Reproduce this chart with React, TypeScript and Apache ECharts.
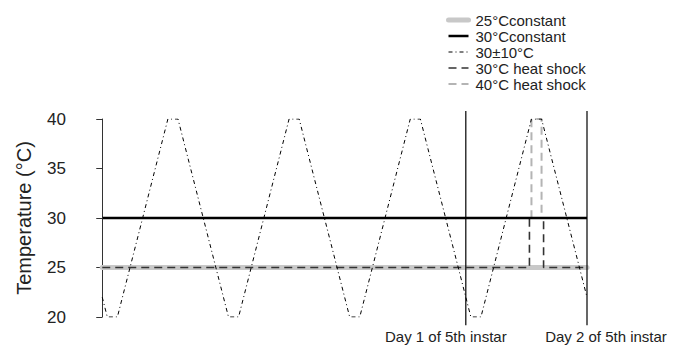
import React, { useEffect, useRef } from "react";
import * as echarts from "echarts";

// Time axis in hours (0 = start of record, 72 = day 1 of 5th instar, 96 = day 2)
const waveHours = [0, 1, 3, 13, 15, 25, 27, 37, 39, 49, 51, 61, 63, 73, 75, 85, 87, 96];
const waveTemps = [22, 20, 20, 40, 40, 20, 20, 40, 40, 20, 20, 40, 40, 20, 20, 40, 40, 22];

const constHours = [0, 96];
const const25 = [25, 25];
const const30 = [30, 30];

const hs30Hours = [0, 84.6, 84.6, 87.4, 87.4, 96];
const hs30Temps = [25, 25, 30, 30, 25, 25];

const hs40Hours = [0, 85, 85, 87, 87, 96];
const hs40Temps = [30, 30, 40, 40, 30, 30];

const dayHours = [72, 96];
const dayLabels = ["Day 1 of 5th instar", "Day 2 of 5th instar"];
const dayLineRange = [19.16, 40.81];

const yTicks = [20, 25, 30, 35, 40];

const seriesNames = [
  "25°Cconstant",
  "30°Cconstant",
  "30±10°C",
  "30°C heat shock",
  "40°C heat shock",
];

const zip = (xs: number[], ys: number[]) => xs.map((x, i) => [x, ys[i]]);

const FONT = "Liberation Sans, Arial, Helvetica, sans-serif";
const NOSYM = { color: "rgba(0,0,0,0)", borderWidth: 0, opacity: 0 };

const styles: any[] = [
  { color: "#c8c8c8", width: 5, cap: "round" },
  { color: "#000", width: 2.5 },
  { color: "#000", width: 1, type: [4, 3, 1, 3] },
  { color: "#333", width: 1.6, type: [8, 5] },
  { color: "#b4b4b4", width: 2, type: [8, 5] },
];

export default function App() {
  const ref = useRef<HTMLDivElement>(null);

  useEffect(() => {
    if (!ref.current) return;
    const chart = echarts.init(ref.current, undefined, { renderer: "svg" });

    const dayLineSeries = dayHours.map((h, i) => ({
      type: "line",
      name: "day" + i,
      data: [
        [h, dayLineRange[0]],
        [h, dayLineRange[1]],
      ],
      symbol: "none",
      clip: false,
      silent: true,
      lineStyle: { color: "#000", width: 1.2 },
      z: 5,
    }));

    const option: any = {
      animation: false,
      backgroundColor: "#fff",
      grid: { left: 77, right: 92, top: 119, bottom: 29, containLabel: false },
      legend: {
        data: seriesNames.map((n, i) => ({ name: n, lineStyle: styles[i] })),
        orient: "vertical",
        left: 446,
        top: 12,
        padding: 0,
        itemGap: 0,
        itemWidth: 20,
        itemHeight: 16,
        selectedMode: false,
        itemStyle: NOSYM,
        textStyle: {
          fontFamily: FONT,
          fontSize: 15,
          lineHeight: 16,
          color: "#222",
          padding: [0, 0, 0, 2],
        },
      },
      xAxis: {
        type: "value",
        min: -5,
        max: 96,
        axisLine: { show: false },
        axisTick: { show: false },
        splitLine: { show: false },
        axisLabel: {
          customValues: dayHours,
          margin: 12,
          formatter: (v: number) => {
            const i = dayHours.indexOf(v);
            if (i < 0) return "";
            return i === 0 ? "{a|" + dayLabels[i] + "}" : "{b|" + dayLabels[i] + "}";
          },
          rich: {
            a: { fontFamily: FONT, fontSize: 15, color: "#222", padding: [0, 40, 0, 0] },
            b: { fontFamily: FONT, fontSize: 15, color: "#222", padding: [0, 0, 0, 38] },
          },
        },
      },
      yAxis: {
        type: "value",
        min: yTicks[0],
        max: yTicks[yTicks.length - 1],
        interval: yTicks[1] - yTicks[0],
        name: "Temperature (°C)",
        nameLocation: "middle",
        nameGap: 43,
        nameTextStyle: { fontFamily: FONT, fontSize: 20, color: "#222" },
        axisLine: { show: true, lineStyle: { color: "#333", width: 1 } },
        axisTick: { show: true, length: 6, lineStyle: { color: "#333" } },
        splitLine: { show: false },
        axisLabel: { fontFamily: FONT, fontSize: 17, color: "#222", margin: 11 },
      },
      series: [
        {
          type: "line",
          name: seriesNames[0],
          data: zip(constHours, const25),
          symbol: "none",
          lineStyle: styles[0],
          itemStyle: NOSYM,
          z: 1,
        },
        {
          type: "line",
          name: seriesNames[4],
          data: zip(hs40Hours, hs40Temps),
          symbol: "none",
          lineStyle: styles[4],
          itemStyle: NOSYM,
          z: 2,
        },
        {
          type: "line",
          name: seriesNames[3],
          data: zip(hs30Hours, hs30Temps),
          symbol: "none",
          lineStyle: styles[3],
          itemStyle: NOSYM,
          z: 3,
        },
        {
          type: "line",
          name: seriesNames[1],
          data: zip(constHours, const30),
          symbol: "none",
          lineStyle: styles[1],
          itemStyle: NOSYM,
          z: 4,
        },
        {
          type: "line",
          name: seriesNames[2],
          data: zip(waveHours, waveTemps),
          symbol: "none",
          lineStyle: styles[2],
          itemStyle: NOSYM,
          z: 5,
        },
        ...dayLineSeries,
      ],
    };

    chart.setOption(option);
    return () => chart.dispose();
  }, []);

  return (
    <div
      ref={ref}
      style={{ position: "absolute", left: 0, top: 0, width: 679, height: 346 }}
    />
  );
}
